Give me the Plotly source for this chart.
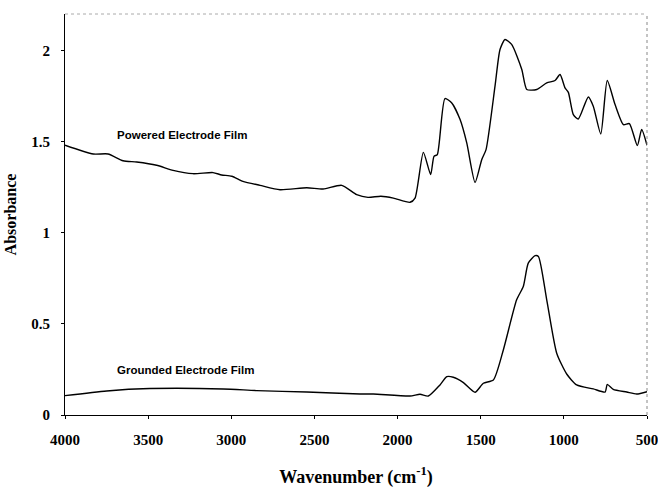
import plotly.graph_objects as go

# Powered electrode film spectrum
powered_wn = [4000, 3830, 3741, 3651, 3569, 3449, 3350, 3230, 3110, 3058, 2997, 2930, 2827,
              2707, 2546, 2448, 2336, 2246, 2178, 2100, 2025, 1925, 1895, 1845, 1801, 1781,
              1761, 1715, 1674, 1624, 1584, 1534, 1494, 1468, 1414, 1384, 1354, 1314, 1253,
              1223, 1163, 1103, 1053, 1023, 993, 973, 943, 913, 853, 823, 778, 739, 692,
              642, 606, 558, 532, 500]
powered_abs = [1.48, 1.432, 1.432, 1.395, 1.388, 1.370, 1.342, 1.324, 1.330, 1.317, 1.310,
               1.282, 1.260, 1.236, 1.247, 1.240, 1.260, 1.209, 1.194, 1.200, 1.190, 1.167,
               1.190, 1.441, 1.319, 1.419, 1.429, 1.736, 1.712, 1.621, 1.493, 1.276, 1.401,
               1.456, 1.804, 2.005, 2.060, 2.033, 1.896, 1.786, 1.786, 1.822, 1.835, 1.868,
               1.795, 1.770, 1.648, 1.624, 1.745, 1.694, 1.542, 1.835, 1.703, 1.593, 1.599,
               1.478, 1.566, 1.480]

# Grounded electrode film spectrum
grounded_wn = [4000, 3749, 3489, 3048, 2847, 2546, 2226, 2146, 1925, 1865, 1815, 1745, 1704,
               1665, 1604, 1534, 1484, 1424, 1364, 1284, 1244, 1214, 1173, 1153, 1103, 1043,
               983, 923, 823, 752, 739, 703, 622, 562, 500]
grounded_abs = [0.106, 0.132, 0.145, 0.143, 0.134, 0.126, 0.115, 0.115, 0.104, 0.114, 0.104,
                0.165, 0.210, 0.207, 0.178, 0.125, 0.174, 0.192, 0.357, 0.632, 0.705, 0.833,
                0.874, 0.870, 0.632, 0.339, 0.225, 0.165, 0.143, 0.126, 0.168, 0.141, 0.126,
                0.115, 0.128]

x_ticks = [4000, 3500, 3000, 2500, 2000, 1500, 1000, 500]
y_ticks = [0, 0.5, 1, 1.5, 2]
y_tick_text = ["0", "0.5", "1", "1.5", "2"]

fig = go.Figure()
for xs, ys in [(powered_wn, powered_abs), (grounded_wn, grounded_abs)]:
    fig.add_trace(go.Scatter(x=xs, y=ys, mode="lines",
                             line=dict(color="black", width=1.4, shape="spline", smoothing=0.6),
                             showlegend=False, hoverinfo="skip"))

fig.add_annotation(x=3700, y=1.535, text="<b>Powered Electrode Film</b>", showarrow=False,
                   xanchor="left", yanchor="middle",
                   font=dict(family="Liberation Sans, Arial", size=11.5, color="black"))
fig.add_annotation(x=3700, y=0.245, text="<b>Grounded Electrode Film</b>", showarrow=False,
                   xanchor="left", yanchor="middle",
                   font=dict(family="Liberation Sans, Arial", size=11.5, color="black"))

# light top / right frame
fig.add_shape(type="line", xref="paper", yref="paper", x0=0, x1=1, y0=1, y1=1,
              line=dict(color="#aaaaaa", width=1, dash="dot"))
fig.add_shape(type="line", xref="paper", yref="paper", x0=1, x1=1, y0=0, y1=1,
              line=dict(color="#888888", width=1, dash="dot"))

tick_font = dict(family="Liberation Serif, Times New Roman", size=15, color="black")
fig.update_xaxes(range=[4000, 500], tickvals=x_ticks, ticktext=[f"<b>{v}</b>" for v in x_ticks],
                 showgrid=False, zeroline=False, showline=True, linecolor="black", linewidth=1,
                 ticks="outside", ticklen=3, tickcolor="black", tickfont=tick_font,
                 ticklabelstandoff=8, ticklabeloverflow="allow", automargin=False,
                 title=dict(text="<b>Wavenumber (cm<sup>-1</sup>)</b>", standoff=25,
                            font=dict(family="Liberation Serif, Times New Roman", size=18,
                                      color="black")))
fig.update_yaxes(range=[0, 2.2], tickvals=y_ticks, ticktext=[f"<b>{t}</b>" for t in y_tick_text],
                 showgrid=False, zeroline=False, showline=True, linecolor="black", linewidth=1,
                 ticks="outside", ticklen=3, tickcolor="black", tickfont=tick_font,
                 ticklabelstandoff=8, ticklabeloverflow="allow", automargin=False,
                 title=dict(text="<b>Absorbance</b>", standoff=10,
                            font=dict(family="Liberation Serif, Times New Roman", size=16,
                                      color="black")))

fig.update_layout(width=658, height=488, margin=dict(l=65, r=11, t=14, b=73),
                  paper_bgcolor="white", plot_bgcolor="white")

fig.write_html("out.html")
